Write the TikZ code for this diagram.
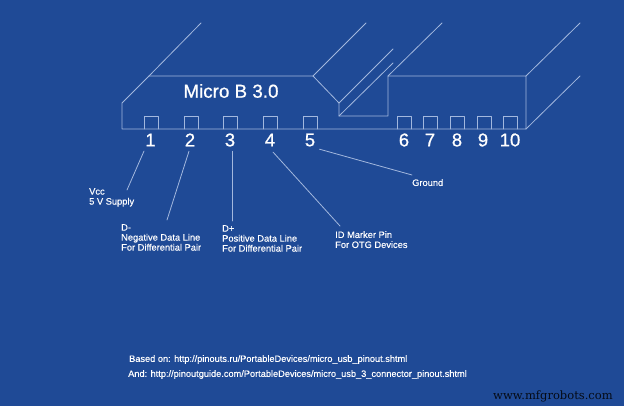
\documentclass[tikz,border=0pt]{standalone}
\usepackage{fontspec}
\setmainfont{Liberation Sans}[FakeBold=0.3]
\newfontfamily\numfont{Liberation Sans}[FakeBold=0.8]
\newfontfamily\wwwfont{DejaVu Serif}
\definecolor{bluebg}{HTML}{1F4A96}
\definecolor{bluelin}{HTML}{A3B8DE}
\tikzset{
  lin/.style={draw=bluelin, line width=0.8pt},
  num/.style={text=white, font=\numfont\fontsize{18.5}{18.5}\selectfont, inner sep=0pt},
  lab/.style={text=white, font=\fontsize{9.3}{10}\selectfont, anchor=north west, align=left, inner sep=0pt}
}
\begin{document}
\begin{tikzpicture}[line join=round, line cap=round, x=1pt, y=-1pt]
\fill[bluebg] (0,0) rectangle (624,406);
\useasboundingbox (0,0) rectangle (624,406);
\draw[lin] (149,76) -- (122,103) -- (122,129) -- (526,129) -- (526,76) -- (388,76) -- (388,116) -- (339,116) -- (339,103) -- (313,76) -- cycle;
\draw[lin] (149,76) -- (201,23);
\draw[lin] (313,76) -- (366,23);
\draw[lin] (339,103) -- (393,49);
\draw[lin] (339,116) -- (393,63);
\draw[lin] (388,76) -- (442,23);
\draw[lin] (526,76) -- (580,23);
\draw[lin] (526,129) -- (580,76);
\foreach \x in {144,184,223,263,303,397,423,450,477,503}{\draw[lin] (\x,129) -- (\x,116) -- (\x+14,116) -- (\x+14,129);}
\node[text=white, font=\numfont\fontsize{18.8}{18.8}\selectfont, inner sep=0pt] (title) at (231,91) {Micro B 3.0};
\foreach \x/\l in {150.5/1,190/2,230/3,270/4,310/5,404/6,430/7,457/8,483/9,510/10}{\node[num] (n\l) at (\x,140) {\l};}
\node[lab] (vcc) at (89,188) {Vcc\\5 V Supply};
\node[lab] (dm) at (121,224) {D-\\Negative Data Line\\For Differential Pair};
\node[lab] (dp) at (222,225) {D+\\Positive Data Line\\For Differential Pair};
\node[lab] (id) at (335,231) {ID Marker Pin\\For OTG Devices};
\node[lab] (gnd) at (412,179) {Ground};
\node[lab, font=\fontsize{9.22}{10}\selectfont] (src) at (129,355) {Based on: http://pinouts.ru/PortableDevices/micro\_usb\_pinout.shtml};
\node[lab, font=\fontsize{9.22}{10}\selectfont] (srcb) at (128,370) {And: http://pinoutguide.com/PortableDevices/micro\_usb\_3\_connector\_pinout.shtml};
\node[text=black!85!bluebg, font=\wwwfont\fontsize{11.5}{11.5}\selectfont, anchor=north west, inner sep=0pt] (www) at (493,391) {www.mfgrobots.com};
\draw[lin] ([xshift=-6.5pt,yshift=-4.5pt]n1.south) -- ([xshift=38pt,yshift=-2pt]vcc.north west);
\draw[lin] ([xshift=-1pt,yshift=-4.5pt]n2.south) -- ([xshift=46pt,yshift=4pt]dm.north west);
\draw[lin] ([xshift=2pt,yshift=-4.5pt]n3.south) -- ([xshift=10pt,yshift=4pt]dp.north west);
\draw[lin] ([xshift=3pt,yshift=-5.5pt]n4.south) -- ([xshift=5pt,yshift=5pt]id.north west);
\draw[lin] ([xshift=4pt,yshift=-2.5pt]n5.south east) -- ([yshift=4pt]gnd.north west);
\end{tikzpicture}
\end{document}
